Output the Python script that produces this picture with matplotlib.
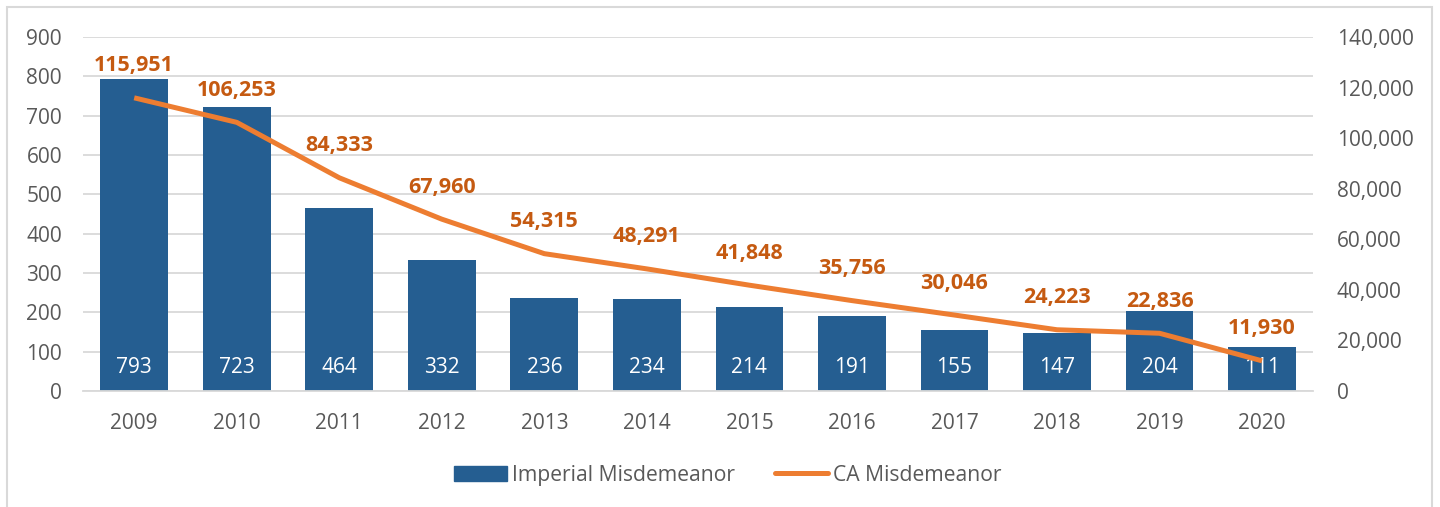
import matplotlib
matplotlib.use("Agg")
import matplotlib.pyplot as plt
from matplotlib.patches import Rectangle
from matplotlib.lines import Line2D
from matplotlib.ticker import FuncFormatter

years = ["2009", "2010", "2011", "2012", "2013", "2014", "2015", "2016", "2017", "2018", "2019", "2020"]
imperial = [793, 723, 464, 332, 236, 234, 214, 191, 155, 147, 204, 111]
ca = [115951, 106253, 84333, 67960, 54315, 48291, 41848, 35756, 30046, 24223, 22836, 11930]

BAR = "#255E91"
LINE = "#ED7D31"
LBL = "#C55A11"
TXT = "#595959"
GRID = "#D9D9D9"

plt.rcParams['font.family'] = ['Open Sans', 'DejaVu Sans']

fig = plt.figure(figsize=(14.4, 5.07), dpi=100)
ax = fig.add_axes([0.0576, 0.2288, 0.912 - 0.0576, 0.927 - 0.2288])
x = list(range(len(years)))
ax.bar(x, imperial, width=0.66, color=BAR, zorder=2)
ax.set_ylim(0, 900)
ax.set_yticks(range(0, 901, 100))
ax.set_xlim(-0.5, len(years) - 0.5)
ax.set_xticks(x)
ax.set_xticklabels(years)
ax.grid(axis='y', color=GRID, linewidth=1.3, zorder=0)
ax.set_axisbelow(True)
for s in ['top', 'right', 'left']:
    ax.spines[s].set_visible(False)
ax.spines['bottom'].set_color(GRID)
ax.spines['bottom'].set_linewidth(1.3)
ax.tick_params(axis='both', length=0, labelsize=15, colors=TXT)
ax.tick_params(axis='y', pad=15)
ax.tick_params(axis='x', pad=15.5)
for xi, v in zip(x, imperial):
    ax.annotate(f"{v}", (xi, 0), xytext=(0, 17), textcoords='offset points',
                ha='center', va='center', color='white', fontsize=15)

ax2 = ax.twinx()
ax2.plot(x, ca, color=LINE, linewidth=3.6, solid_capstyle='butt', zorder=3)
ax2.set_ylim(0, 140000)
ax2.set_yticks(range(0, 140001, 20000))
ax2.yaxis.set_major_formatter(FuncFormatter(lambda v, p: f"{int(v):,}"))
for s in ax2.spines.values():
    s.set_visible(False)
ax2.tick_params(axis='y', length=0, labelsize=15, colors=TXT, pad=17)
for xi, v in zip(x, ca):
    ax2.annotate(f"{v:,}", (xi, v), xytext=(0, 23), textcoords='offset points',
                 ha='center', va='center', color=LBL, fontsize=15.5, fontweight='bold')

handles = [Rectangle((0, 0), 1, 1, color=BAR),
           Line2D([0], [0], color=LINE, linewidth=3.6, solid_capstyle='round')]
fig.legend(handles, ["Imperial Misdemeanor", "CA Misdemeanor"], loc='center',
           bbox_to_anchor=(0.5055, 0.063), ncol=2, frameon=False, fontsize=15.2,
           labelcolor=TXT, handlelength=2.5, handletextpad=0.24, columnspacing=1.9)

fig.patches.append(Rectangle((7 / 1440, -0.01), (1432 - 7) / 1440, 1 - 7 / 507 + 0.01,
                             transform=fig.transFigure, fill=False, edgecolor=GRID, linewidth=1.5))

fig.savefig("out.png", dpi=100, facecolor='white')
